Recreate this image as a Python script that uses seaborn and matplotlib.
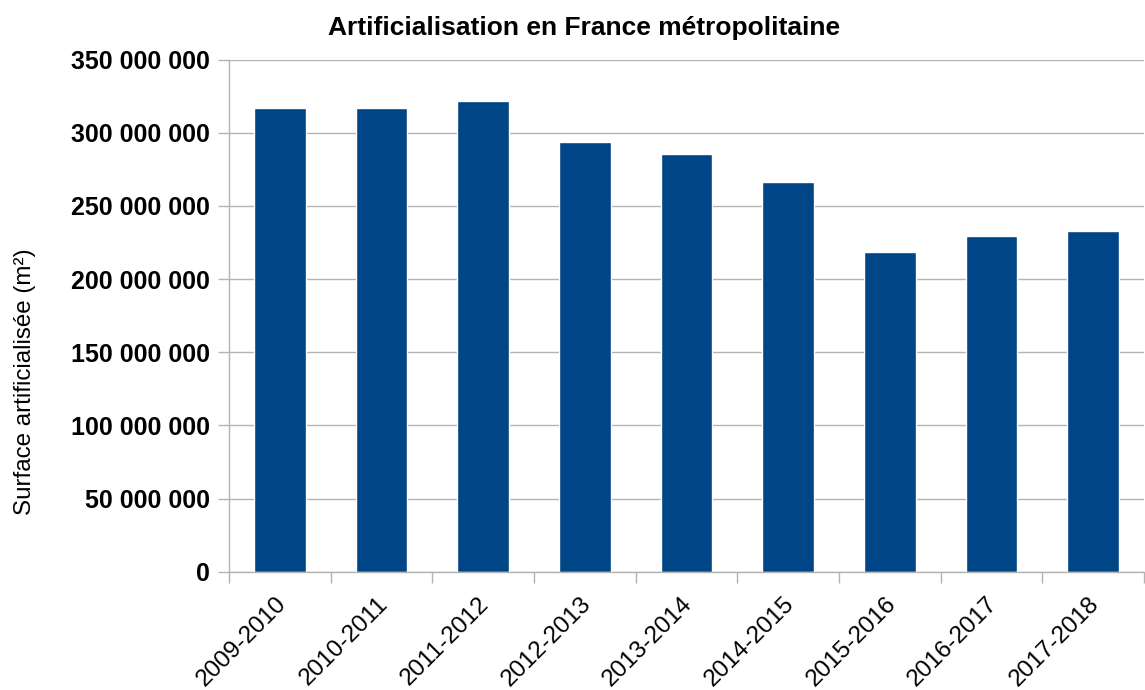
import matplotlib
matplotlib.use("Agg")
import matplotlib.pyplot as plt
import matplotlib.transforms as mtransforms
import seaborn as sns
import pandas as pd
from matplotlib.ticker import FuncFormatter, MultipleLocator

# Données
periodes = ['2009-2010', '2010-2011', '2011-2012', '2012-2013', '2013-2014',
            '2014-2015', '2015-2016', '2016-2017', '2017-2018']
surface = [317_000_000, 317_000_000, 321_800_000, 293_700_000, 285_500_000,
           266_400_000, 218_500_000, 229_500_000, 232_900_000]

df = pd.DataFrame({'periode': periodes, 'surface': surface})

sns.set_theme(style="white")
plt.rcParams['font.family'] = ['Liberation Sans', 'DejaVu Sans']
plt.rcParams['text.color'] = 'black'
plt.rcParams['axes.labelcolor'] = 'black'
plt.rcParams['xtick.labelcolor'] = 'black'
plt.rcParams['ytick.labelcolor'] = 'black'

fig = plt.figure(figsize=(11.45, 6.9), dpi=100)
ax = fig.add_axes([229 / 1145, 1 - 571.7 / 690, 915 / 1145, (571.7 - 59.7) / 690])

sns.barplot(data=df, x='periode', y='surface', color='#004586', saturation=1,
            width=0.51, ax=ax)

ax.set_ylim(0, 350_000_000)
ax.set_xlim(-0.5, len(periodes) - 0.5)
ax.yaxis.set_major_locator(MultipleLocator(50_000_000))
ax.yaxis.set_major_formatter(FuncFormatter(lambda v, p: f"{v:,.0f}".replace(",", " ")))
ax.grid(axis='y', color='#b3b3b3', linewidth=1)
ax.set_axisbelow(True)

for s in ['top', 'right']:
    ax.spines[s].set_visible(False)
for s in ['left', 'bottom']:
    ax.spines[s].set_color('#b3b3b3')
    ax.spines[s].set_linewidth(1)

# graduations de l'axe x entre les catégories
ax.set_xticks(range(len(periodes)))
ax.set_xticklabels(periodes, rotation=45, ha='right', rotation_mode='anchor', fontsize=17.5)
ax.set_xticks([i - 0.5 for i in range(len(periodes) + 1)], minor=True)
ax.tick_params(axis='x', which='major', length=0, pad=15)
ax.tick_params(axis='x', which='minor', length=8, color='#b3b3b3', width=1, bottom=True)
ax.tick_params(axis='y', length=8, color='#b3b3b3', width=1, left=True, labelsize=18, pad=6)
for lab in ax.get_yticklabels():
    lab.set_fontweight('bold')
decal = mtransforms.ScaledTranslation(-5 / 100, 0, fig.dpi_scale_trans)
for lab in ax.get_xticklabels():
    lab.set_transform(lab.get_transform() + decal)

ax.set_xlabel('')
ax.set_ylabel('Surface artificialisée (m²)', fontsize=17.4)
ax.yaxis.set_label_coords(36 / 1145, 1 - 382 / 690, transform=fig.transFigure)

fig.suptitle('Artificialisation en France métropolitaine', fontsize=19, fontweight='bold',
             x=584 / 1145, y=1 - 28 / 690, va='center')

fig.savefig('out.png', dpi=100)
